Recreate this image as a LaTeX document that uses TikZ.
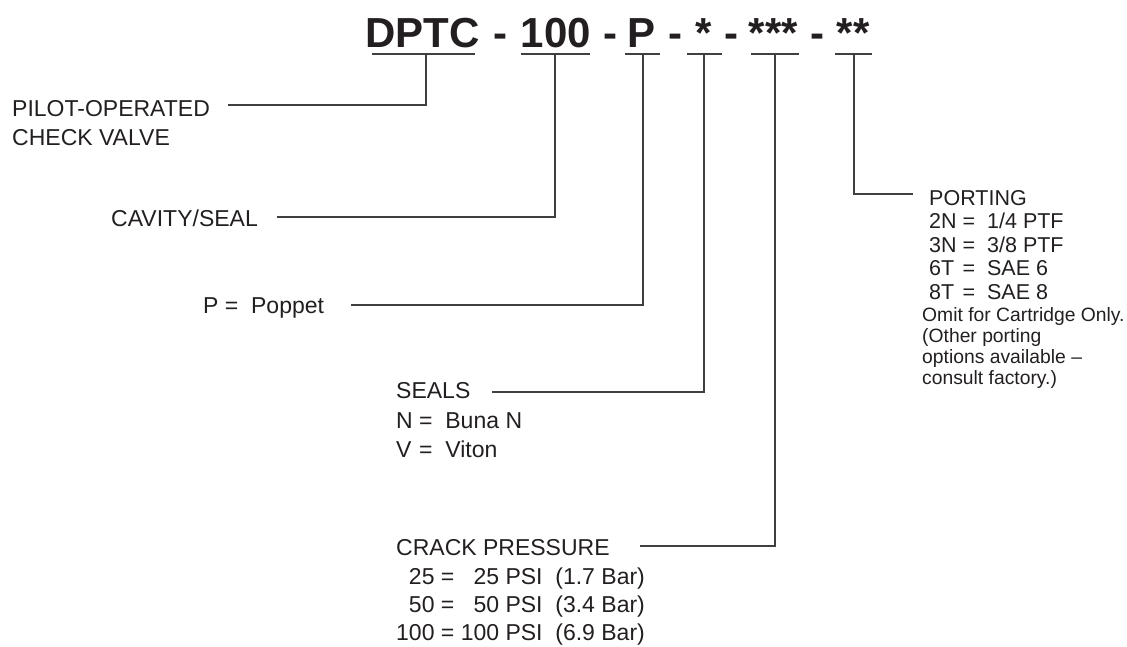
\documentclass[tikz,border=0pt]{standalone}
\usepackage{fontspec}
\setmainfont{Liberation Sans}
\definecolor{ink}{HTML}{231F20}
\definecolor{wirec}{HTML}{404040}
\begin{document}
\begin{tikzpicture}[x=1pt,y=-1pt,
  title/.style={font=\fontsize{42}{48}\selectfont\bfseries, text=ink, inner sep=0pt, anchor=base},
  lbl/.style={font=\fontsize{23}{28}\selectfont, text=ink, inner sep=0pt, anchor=base west},
  port/.style={font=\fontsize{21.5}{24}\selectfont, text=ink, inner sep=0pt, anchor=base west},
  small/.style={font=\fontsize{19.3}{21}\selectfont, text=ink, inner sep=0pt, anchor=base west},
  uline/.style={draw=wirec, line width=1.6pt},
  wire/.style={draw=wirec, line width=1.4pt},
]
\useasboundingbox (0,0) rectangle (1127,646);

% model code
\node[title] (tDPTC) at (422.5,47) {DPTC};
\node[title] (h1) at (500,47) {-};
\node[title] (t100) at (556,47) {100};
\node[title] (h2) at (610,47) {-};
\node[title] (tP) at (641,47) {P};
\node[title] (h3) at (675,47) {-};
\node[title] (tSa) at (703.5,47) {*};
\node[title] (h4) at (731,47) {-};
\node[title] (tSc) at (773.5,47) {***};
\node[title] (h5) at (817,47) {-};
\node[title] (tSb) at (853,47) {**};

% underlines
\coordinate (u1a) at (372,54); \coordinate (u1b) at (475,54); \coordinate (u1) at (426,54);
\coordinate (u2a) at (521,54); \coordinate (u2b) at (590,54); \coordinate (u2) at (555,54);
\coordinate (u3a) at (625,54); \coordinate (u3b) at (660,54); \coordinate (u3) at (643,54);
\coordinate (u4a) at (687,54); \coordinate (u4b) at (722,54); \coordinate (u4) at (704,54);
\coordinate (u5a) at (751,54); \coordinate (u5b) at (799,54); \coordinate (u5) at (775,54);
\coordinate (u6a) at (835,54); \coordinate (u6b) at (872,54); \coordinate (u6) at (854,54);
\foreach \i in {1,...,6} {\draw[uline] (u\i a) -- (u\i b);}

% labels
\node[lbl] (pilot1) at (12,116) {PILOT-OPERATED};
\node[lbl] (pilot2) at (12,145) {CHECK VALVE};

\node[lbl, anchor=base east] (cav) at (258,226) {CAVITY/SEAL};

\node[lbl] (pop) at (203,313) {P =~ Poppet};

\node[lbl] (seals) at (396,398) {SEALS};
\node[lbl] (sealN) at (396,428) {N =~ Buna N};
\node[lbl] (sealV) at (396,457) {\makebox[0.722em][l]{V} =~ Viton};

\node[lbl] (crack) at (396,555) {CRACK PRESSURE};
\node[lbl] (cr25) at (396,584) {\hphantom{1}25 = \hphantom{1}25 PSI~~(1.7 Bar)};
\node[lbl] (cr50) at (396,612) {\hphantom{1}50 = \hphantom{1}50 PSI~~(3.4 Bar)};
\node[lbl] (cr100) at (396,640) {100 = 100 PSI~~(6.9 Bar)};

\node[port] (porting) at (929,205) {PORTING};
\node[port] (p2N) at (929,228.5) {2N =~ 1/4 PTF};
\node[port] (p3N) at (929,252) {3N =~ 3/8 PTF};
\node[port] (p6T) at (929,275.5) {\makebox[1.278em][l]{6T} =~ SAE 6};
\node[port] (p8T) at (929,299) {\makebox[1.278em][l]{8T} =~ SAE 8};
\node[small] (n1) at (922,321) {Omit for Cartridge Only.};
\node[small] (n2) at (922,342) {(Other porting};
\node[small] (n3) at (922,363) {options available –};
\node[small] (n4) at (922,384) {consult factory.)};

% connector ends
\coordinate (e1) at (228,105);
\coordinate (e2) at (277,217);
\coordinate (e3) at (351,305);
\coordinate (e4) at (492,392);
\coordinate (e5) at (640,546);
\coordinate (e6) at (913,194);
\foreach \i in {1,...,6} {\draw[wire] (u\i) |- (e\i);}
\end{tikzpicture}
\end{document}
